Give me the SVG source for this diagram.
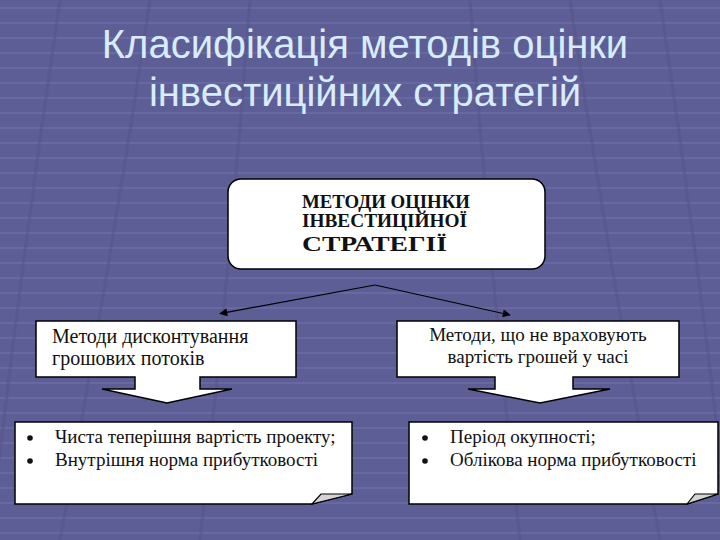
<svg xmlns="http://www.w3.org/2000/svg" width="720" height="540" viewBox="0 0 720 540">
<defs>
<style>
.title{font-family:"Liberation Sans",Arial,sans-serif;font-size:40px;fill:#d8ecff;text-anchor:middle}
.box{fill:#ffffff;stroke:#000000;stroke-width:1.5}
.hd{font-family:"Liberation Serif","Times New Roman",serif;font-weight:bold;fill:#111111}
.tx{font-family:"Liberation Serif","Times New Roman",serif;font-size:19px;fill:#111111}
.tx.big{font-size:20px}
.conn{fill:none;stroke:#000000;stroke-width:1.2}
.fold{fill:#d4d4d4;stroke:#000000;stroke-width:1.2}
.grid{stroke:#6c6ca6;stroke-width:2;opacity:0.7}
.diag{stroke:#53538a;stroke-width:3;fill:none;opacity:0.5}
</style>
<marker id="ah" viewBox="0 0 10 10" refX="9" refY="5" markerWidth="10" markerHeight="8" markerUnits="userSpaceOnUse" orient="auto">
<path d="M0,0 L10,5 L0,10 Z" fill="#000000"/>
</marker>
<pattern id="bg" width="720" height="30" patternUnits="userSpaceOnUse">
<line class="grid" x1="0" y1="8" x2="720" y2="8"/>
<line class="grid" x1="0" y1="23" x2="720" y2="23"/>
</pattern>
</defs>
<rect x="0" y="0" width="720" height="540" fill="#5e5e96"/>
<rect x="0" y="0" width="720" height="540" fill="url(#bg)"/>
<g id="background-lines">
<path class="diag" d="M60,0 Q20,270 -10,540"/>
<path class="diag" d="M150,0 Q110,270 60,540"/>
<path class="diag" d="M250,0 Q230,270 200,540"/>
<path class="diag" d="M660,0 Q700,270 730,540"/>
<path class="diag" d="M570,0 Q610,270 660,540"/>
<path class="diag" d="M470,0 Q490,270 520,540"/>
</g>
<g id="title">
<text class="title" x="365" y="58">Класифікація методів оцінки</text>
<text class="title" x="365" y="106">інвестиційних стратегій</text>
</g>
<g id="connectors">
<line class="conn" x1="375" y1="285" x2="220" y2="313.6" marker-end="url(#ah)"/>
<line class="conn" x1="375" y1="285" x2="510" y2="315" marker-end="url(#ah)"/>
</g>
<g id="node-top">
<rect class="box" x="228" y="179" width="317" height="90" rx="13" ry="13"/>
<text class="hd" x="302" y="208" font-size="18" textLength="168" lengthAdjust="spacingAndGlyphs">МЕТОДИ ОЦІНКИ</text>
<text class="hd" x="302" y="227" font-size="18" textLength="165" lengthAdjust="spacingAndGlyphs">ІНВЕСТИЦІЙНОЇ</text>
<text class="hd" x="302" y="251" font-size="22" textLength="145" lengthAdjust="spacingAndGlyphs">СТРАТЕГІЇ</text>
</g>
<g id="node-left">
<path class="box" d="M36,321 H296 V377 H200 V389 H232 L167,403 L102,389 H135 V377 H36 Z"/>
<text class="tx big" x="52" y="343">Методи дисконтування</text>
<text class="tx big" x="52" y="365">грошових потоків</text>
</g>
<g id="node-right">
<path class="box" d="M397,321 H679 V377 H573 V389 H610 L540,403 L468,389 H495 V377 H397 Z"/>
<text class="tx" x="538" y="341" text-anchor="middle">Методи, що не враховують</text>
<text class="tx" x="538" y="363" text-anchor="middle">вартість грошей у часі</text>
</g>
<g id="node-bottom-left">
<path class="box" d="M15,422 H352 V494 L312,504 H15 Z"/>
<path class="fold" d="M312,504 L321,494 L352,494 Z"/>
<circle cx="30" cy="438" r="2.8" fill="#111111"/>
<circle cx="30" cy="461" r="2.8" fill="#111111"/>
<text class="tx" x="55" y="443">Чиста теперішня вартість проекту;</text>
<text class="tx" x="55" y="466">Внутрішня норма прибутковості</text>
</g>
<g id="node-bottom-right">
<path class="box" d="M409,422 H718 V494 L687,504 H409 Z"/>
<path class="fold" d="M687,504 L695,494 L718,494 Z"/>
<circle cx="425" cy="438" r="2.8" fill="#111111"/>
<circle cx="425" cy="461" r="2.8" fill="#111111"/>
<text class="tx" x="450" y="443">Період окупності;</text>
<text class="tx" x="450" y="466">Облікова норма прибутковості</text>
</g>
</svg>
